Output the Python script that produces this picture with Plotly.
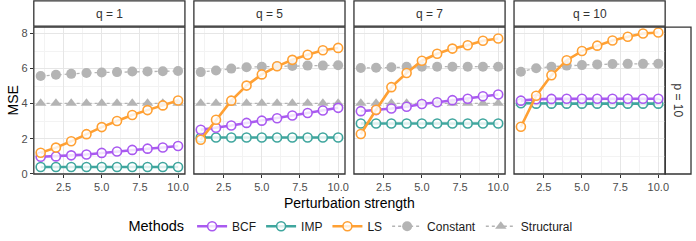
import plotly.graph_objects as go

# ---- data ----
x_vals = [1, 2, 3, 4, 5, 6, 7, 8, 9, 10]
panels = ["q = 1", "q = 5", "q = 7", "q = 10"]
row_label = "p = 10"
methods = ["BCF", "IMP", "LS", "Constant", "Structural"]

bcf = [
    [0.97, 0.99, 1.05, 1.10, 1.19, 1.27, 1.36, 1.43, 1.50, 1.58],
    [2.51, 2.62, 2.75, 2.90, 3.03, 3.17, 3.32, 3.47, 3.61, 3.76],
    [3.57, 3.63, 3.72, 3.82, 3.98, 4.08, 4.20, 4.28, 4.42, 4.52],
    [4.17, 4.25, 4.27, 4.28, 4.28, 4.28, 4.28, 4.28, 4.28, 4.28],
]
imp = [
    [0.38, 0.38, 0.38, 0.38, 0.38, 0.38, 0.38, 0.38, 0.38, 0.38],
    [2.07, 2.07, 2.07, 2.07, 2.07, 2.07, 2.07, 2.07, 2.07, 2.07],
    [2.87, 2.87, 2.87, 2.87, 2.87, 2.87, 2.87, 2.87, 2.87, 2.87],
    [4.02, 4.00, 4.00, 4.00, 4.00, 4.00, 4.00, 4.00, 4.00, 4.00],
]
ls = [
    [1.20, 1.49, 1.85, 2.26, 2.66, 3.01, 3.35, 3.63, 3.90, 4.18],
    [1.94, 3.08, 4.17, 5.03, 5.67, 6.13, 6.50, 6.79, 7.05, 7.18],
    [2.27, 3.65, 4.94, 5.75, 6.45, 6.85, 7.14, 7.33, 7.59, 7.72],
    [2.68, 4.45, 5.62, 6.48, 7.00, 7.31, 7.60, 7.82, 8.00, 8.06],
]
constant = [
    [5.58, 5.65, 5.70, 5.75, 5.78, 5.80, 5.83, 5.84, 5.85, 5.86],
    [5.80, 5.89, 6.00, 6.08, 6.11, 6.13, 6.15, 6.17, 6.17, 6.19],
    [6.03, 6.05, 6.08, 6.10, 6.11, 6.11, 6.11, 6.11, 6.11, 6.11],
    [5.82, 6.02, 6.11, 6.17, 6.20, 6.24, 6.26, 6.27, 6.27, 6.28],
]
structural = [
    [4.02] * 10,
    [4.02] * 10,
    [4.02] * 10,
    [4.02] * 10,
]
x_ticks = [2.5, 5.0, 7.5, 10.0]
x_tick_text = ["2.5", "5.0", "7.5", "10.0"]
y_ticks = [0, 2, 4, 6, 8]

# ---- style ----
W, H = 696, 241
FONT = "Arial"
C_BCF = "#A95AF0"
C_IMP = "#3FA69E"
C_LS = "#FFA033"
C_GRAY = "#B4B4B4"

px_left = [34, 195, 356, 517]
px_w = 152
px_top, px_bot = 28, 180

def fx(p):
    return p / W

def fy(p):
    return 1 - p / H

fig = go.Figure()

for i in range(4):
    xa = "x" if i == 0 else f"x{i+1}"
    ya = "y" if i == 0 else f"y{i+1}"
    show = i == 0
    fig.add_trace(go.Scatter(
        x=x_vals, y=constant[i], xaxis=xa, yaxis=ya, name="Constant",
        mode="lines+markers", legendgroup="Constant", showlegend=show, legendrank=4,
        line=dict(color=C_GRAY, width=1.3, dash="dot"),
        marker=dict(symbol="circle", size=10, color=C_GRAY, line=dict(width=0)),
    ))
    fig.add_trace(go.Scatter(
        x=x_vals, y=structural[i], xaxis=xa, yaxis=ya, name="Structural",
        mode="lines+markers", legendgroup="Structural", showlegend=show, legendrank=5,
        line=dict(color=C_GRAY, width=1.3, dash="dot"),
        marker=dict(symbol="triangle-up", size=10, color=C_GRAY, line=dict(width=0)),
    ))
    for name, data, col, rank in [("IMP", imp, C_IMP, 2), ("BCF", bcf, C_BCF, 1), ("LS", ls, C_LS, 3)]:
        fig.add_trace(go.Scatter(
            x=x_vals, y=data[i], xaxis=xa, yaxis=ya, name=name,
            mode="lines+markers", legendgroup=name, showlegend=show, legendrank=rank,
            line=dict(color=col, width=2.6),
            marker=dict(symbol="circle", size=9, color="rgba(255,255,255,0.82)",
                        line=dict(color=col, width=1.6)),
        ))

layout_axes = {}
for i in range(4):
    xkey = "xaxis" if i == 0 else f"xaxis{i+1}"
    ykey = "yaxis" if i == 0 else f"yaxis{i+1}"
    xa = "x" if i == 0 else f"x{i+1}"
    ya = "y" if i == 0 else f"y{i+1}"
    layout_axes[xkey] = dict(
        domain=[fx(px_left[i]), fx(px_left[i] + px_w)], anchor=ya,
        range=[0.55, 10.45], tickvals=x_ticks, ticktext=x_tick_text,
        showgrid=True, gridcolor="#E6E6E6", gridwidth=1, zeroline=False,
        showline=False, ticks="outside", ticklen=3, tickcolor="#333333",
        tickfont=dict(family=FONT, size=11, color="#4D4D4D"),
        minor=dict(tickvals=[1.25, 3.75, 6.25, 8.75], showgrid=True, gridcolor="#F3F3F3", gridwidth=1),
    )
    layout_axes[ykey] = dict(
        domain=[fy(px_bot), fy(px_top)], anchor=xa,
        range=[-0.017, 8.37], tickvals=y_ticks,
        showgrid=True, gridcolor="#E6E6E6", gridwidth=1, zeroline=False,
        showline=False, showticklabels=(i == 0),
        ticks="outside" if i == 0 else "", ticklen=3, tickcolor="#333333",
        tickfont=dict(family=FONT, size=11, color="#4D4D4D"),
        minor=dict(tickvals=[1, 3, 5, 7], showgrid=True, gridcolor="#F3F3F3", gridwidth=1),
    )

shapes = []
annotations = []
for i in range(4):
    shapes.append(dict(type="rect", xref="paper", yref="paper",
                       x0=fx(px_left[i]), x1=fx(px_left[i] + px_w),
                       y0=fy(px_bot), y1=fy(px_top),
                       line=dict(color="#333333", width=1.3), fillcolor="rgba(0,0,0,0)", layer="above"))
    shapes.append(dict(type="rect", xref="paper", yref="paper",
                       x0=fx(px_left[i]), x1=fx(px_left[i] + px_w),
                       y0=fy(27), y1=fy(1),
                       line=dict(color="#333333", width=1.3), fillcolor="white", layer="below"))
    annotations.append(dict(text=panels[i], xref="paper", yref="paper",
                            x=fx(px_left[i] + px_w / 2), y=fy(14), showarrow=False,
                            xanchor="center", yanchor="middle",
                            font=dict(family=FONT, size=12, color="#333333")))
shapes.append(dict(type="rect", xref="paper", yref="paper",
                   x0=fx(669), x1=fx(695), y0=fy(px_bot), y1=fy(px_top),
                   line=dict(color="#333333", width=1.3), fillcolor="white", layer="below"))
annotations.append(dict(text=row_label, xref="paper", yref="paper",
                        x=fx(682), y=fy((px_top + px_bot) / 2), showarrow=False,
                        textangle=90, xanchor="center", yanchor="middle",
                        font=dict(family=FONT, size=12, color="#333333")))
annotations.append(dict(text="MSE", xref="paper", yref="paper",
                        x=fx(13), y=fy(104), showarrow=False, textangle=-90,
                        xanchor="center", yanchor="middle",
                        font=dict(family=FONT, size=14, color="black")))
annotations.append(dict(text="Perturbation strength", xref="paper", yref="paper",
                        x=fx(352), y=fy(210), showarrow=False,
                        xanchor="center", yanchor="middle",
                        font=dict(family=FONT, size=14, color="black")))

fig.update_layout(
    width=W, height=H,
    margin=dict(l=0, r=0, t=0, b=0),
    paper_bgcolor="white", plot_bgcolor="white",
    shapes=shapes, annotations=annotations,
    legend=dict(
        orientation="h", x=fx(354), y=fy(234), xanchor="center", yanchor="middle",
        title=dict(text="Methods", font=dict(family=FONT, size=14.5, color="black")),
        font=dict(family=FONT, size=12, color="#1A1A1A"),
        itemwidth=30, tracegroupgap=0, bgcolor="rgba(0,0,0,0)",
    ),
    **layout_axes,
)

fig.write_html(
    "out.html",
    config={"displayModeBar": False},
    post_script="document.body.style.margin='0';document.body.style.padding='0';document.body.style.overflow='hidden';",
)
